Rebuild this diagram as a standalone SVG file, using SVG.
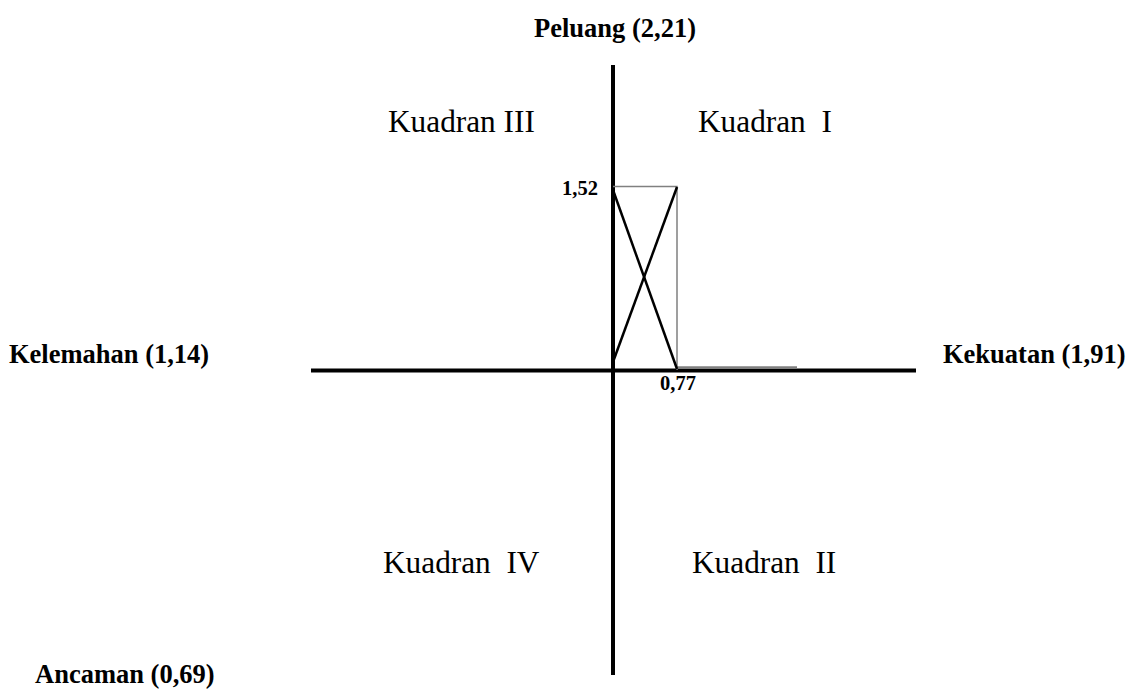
<svg xmlns="http://www.w3.org/2000/svg" width="1132" height="691" viewBox="0 0 1132 691">
<style>
.b{font-family:"Liberation Serif","Times New Roman",serif;font-weight:bold;font-size:26.5px;fill:#000}
.q{font-family:"Liberation Serif","Times New Roman",serif;font-size:31.3px;fill:#000;white-space:pre}
.n{font-family:"Liberation Serif","Times New Roman",serif;font-weight:bold;font-size:20.5px;fill:#000}
.ax{stroke:#000;stroke-width:4;fill:none}
.g{stroke:#808080;stroke-width:1.5;fill:none}
.x{stroke:#000;stroke-width:2.5;fill:none}
</style>
<rect width="1132" height="691" fill="#fff"/>
<g id="axes">
<line class="ax" x1="311" y1="370.5" x2="916" y2="370.5"/>
<line class="ax" x1="613" y1="65" x2="613" y2="675"/>
</g>
<g id="connectors">
<polyline class="g" points="613,186.5 677,186.5 677,370"/>
<line x1="677" y1="367.5" x2="797" y2="367.5" stroke="#808080" stroke-width="2.5"/>
<line class="x" x1="613" y1="190" x2="677" y2="369"/>
<line class="x" x1="613" y1="362" x2="677" y2="187"/>
</g>
<g id="labels">
<text class="b" x="615" y="36.5" text-anchor="middle">Peluang (2,21)</text>
<text class="b" x="9" y="362.5">Kelemahan (1,14)</text>
<text class="b" x="943" y="363">Kekuatan (1,91)</text>
<text class="b" x="35" y="683">Ancaman (0,69)</text>
<text class="n" x="562" y="195">1,52</text>
<text class="n" x="660" y="390">0,77</text>
</g>
<g id="quadrants">
<text class="q" x="388" y="132">Kuadran III</text>
<text class="q" x="698" y="132">Kuadran  I</text>
<text class="q" x="383" y="573">Kuadran  IV</text>
<text class="q" x="692" y="573">Kuadran  II</text>
</g>
</svg>
